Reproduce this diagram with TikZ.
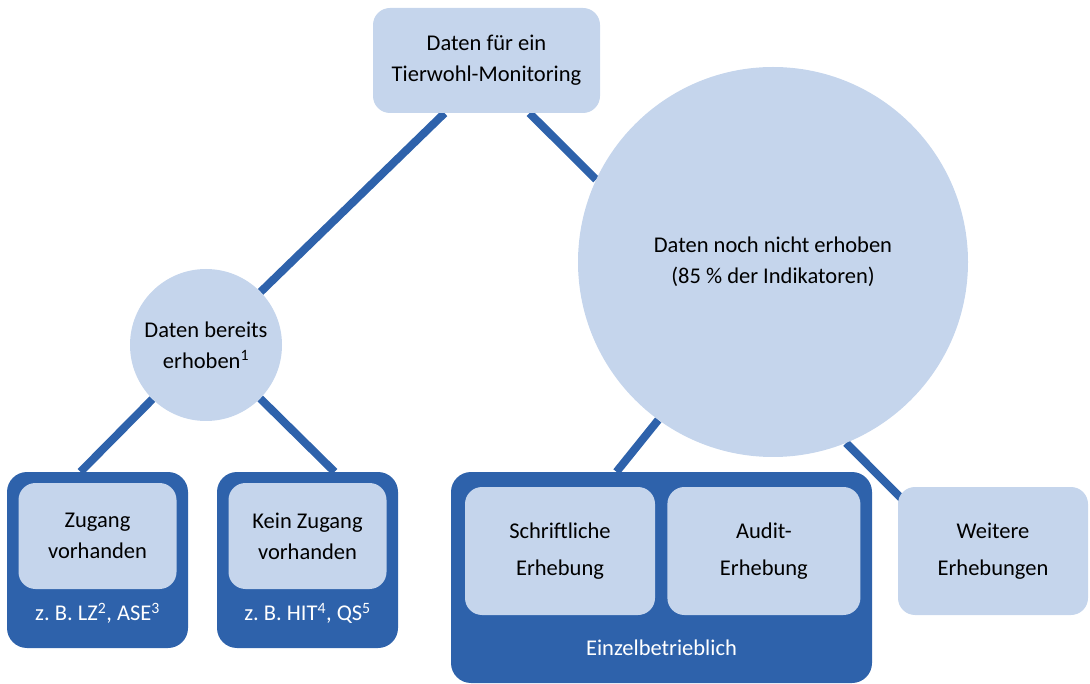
\documentclass[tikz,border=0pt]{standalone}
\usepackage{fontspec}
\setmainfont{Carlito}
\usepackage{tikz}
\usetikzlibrary{positioning,backgrounds}
\definecolor{dunkelblau}{HTML}{2E62AB}
\definecolor{hellblau}{HTML}{C5D5EC}

\begin{document}
\begin{tikzpicture}[x=1pt, y=-1pt,
  hell/.style={fill=hellblau, rounded corners=17pt, align=center, inner sep=0pt,
    font=\fontsize{22.5}{31}\selectfont},
  hellweit/.style={hell, font=\fontsize{22.5}{37}\selectfont},
  kreis/.style={circle, fill=hellblau, align=center, inner sep=0pt,
    font=\fontsize{22.5}{31}\selectfont},
  dunkel/.style={fill=dunkelblau, rounded corners=20pt, inner sep=0pt},
  fuss/.style={text=white, font=\fontsize{22.5}{27}\selectfont},
  ast/.style={draw=dunkelblau, line width=8pt}]
\useasboundingbox (0,0) rectangle (1090,684);

% obere Ebene
\node[hell, minimum width=227pt, minimum height=105pt] (monitoring) at (486.5,60.5) {Daten für ein\\Tierwohl-Monitoring};
\node[kreis, minimum size=152pt] (erhoben) at (206,345) {Daten bereits\\erhoben\textsuperscript{1}};
\node[kreis, minimum size=390pt] (nichterhoben) at (773,262) {Daten noch nicht erhoben\\(85 \% der Indikatoren)};

% Datenbestand
\node[dunkel, minimum width=181pt, minimum height=176pt] (lz) at (97.5,560) {};
\node[hell, minimum width=158pt, minimum height=106pt, below=11pt of lz.north] (zugang) {Zugang\\vorhanden};
\node[fuss] (lzfuss) at ([yshift=35pt]lz.south) {z.\ B. LZ\textsuperscript{2}, ASE\textsuperscript{3}};
\node[dunkel, minimum width=181pt, minimum height=176pt] (hit) at (307.5,560) {};
\node[hell, minimum width=158pt, minimum height=106pt, below=11pt of hit.north] (keinzugang) {Kein Zugang\\vorhanden};
\node[fuss] (hitfuss) at ([yshift=35pt]hit.south) {z.\ B. HIT\textsuperscript{4}, QS\textsuperscript{5}};

% neue Erhebungen
\node[dunkel, minimum width=421pt, minimum height=211pt] (einzel) at (661.5,577.5) {};
\node[hellweit, minimum width=190pt, minimum height=128pt, below right=15pt and 14pt of einzel.north west] (schrift) {Schriftliche\\Erhebung};
\node[hellweit, minimum width=193pt, minimum height=128pt, right=12pt of schrift] (audit) {Audit-\\Erhebung};
\node[fuss] (einzelfuss) at ([yshift=35pt]einzel.south) {Einzelbetrieblich};
\node[hellweit, minimum width=190pt, minimum height=128pt] (weitere) at (993,551) {Weitere\\Erhebungen};

\begin{pgfonlayer}{background}
\draw[ast] ([xshift=-42pt]monitoring.south) -- (erhoben);
\draw[ast] ([xshift=43pt]monitoring.south) -- (nichterhoben.155);
\draw[ast] (erhoben) -- ([xshift=-17pt]lz.north);
\draw[ast] (erhoben) -- ([xshift=27pt]hit.north);
\draw[ast] (nichterhoben.234) -- ([xshift=-45pt]einzel.north);
\draw[ast] (nichterhoben.292) -- ([shift={(7pt,-15pt)}]weitere.north west);
\end{pgfonlayer}
\end{tikzpicture}
\end{document}
